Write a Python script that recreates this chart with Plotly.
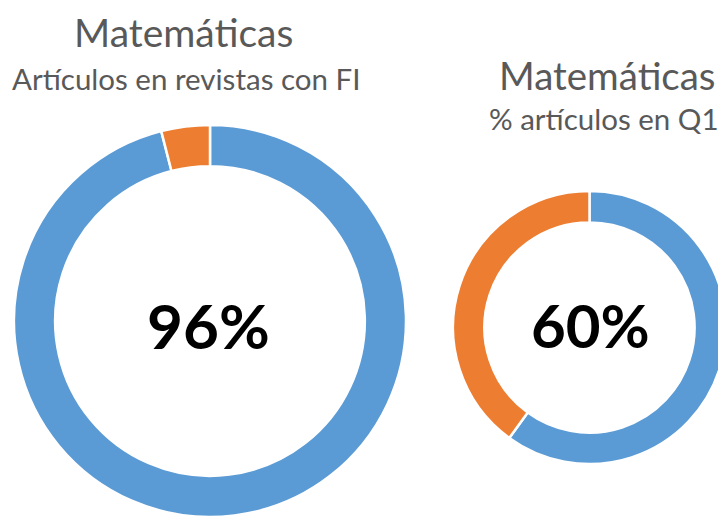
import plotly.graph_objects as go

# The page body has an 8px default margin, so the figure is 8px smaller
# and all reference positions are shifted by -8.
OFF = 8
W, H = 726 - OFF, 517 - OFF

# Data
labels = ["Sí", "No"]
fi_values = [96, 4]
q1_values = [60, 40]
colors = ["#5B9BD5", "#ED7D31"]
title_left = "Matemáticas"
sub_left = "Artículos en revistas con FI"
title_right = "Matemáticas"
sub_right = "% artículos en Q1"
center_left = "96%"
center_right = "60%"

def px(x):
    return min(max((x - OFF) / W, 0), 1)

def py(y):
    return min(max(1 - (y - OFF) / H, 0), 1)

fig = go.Figure()
fig.add_trace(go.Pie(
    labels=labels, values=fi_values, hole=0.79, sort=False, direction="clockwise",
    rotation=0, marker=dict(colors=colors, line=dict(color="white", width=2.5)),
    textinfo="none", hoverinfo="label+percent", showlegend=False,
    domain=dict(x=[px(14), px(406)], y=[py(517), py(125)]),
))
fig.add_trace(go.Pie(
    labels=labels, values=q1_values, hole=0.77, sort=False, direction="clockwise",
    rotation=0, marker=dict(colors=colors, line=dict(color="white", width=2.5)),
    textinfo="none", hoverinfo="label+percent", showlegend=False,
    domain=dict(x=[px(453), px(726)], y=[py(467), py(188)]),
))

FONT = "Lato"
GREY = "#595959"
ann = [
    dict(text=title_left, x=px(183), y=py(32), size=39, color=GREY),
    dict(text=sub_left, x=px(186), y=py(79), size=29.5, color=GREY),
    dict(text=title_right, x=px(607), y=py(75), size=38.5, color=GREY),
    dict(text=sub_right, x=px(604), y=py(118), size=29.5, color=GREY),
    dict(text="<b>" + center_left + "</b>", x=px(208), y=py(325), size=62, color="#000000"),
    dict(text="<b>" + center_right + "</b>", x=px(590), y=py(325), size=60, color="#000000"),
]
for a in ann:
    fig.add_annotation(
        text=a["text"], x=a["x"], y=a["y"], xref="paper", yref="paper",
        xanchor="center", yanchor="middle", showarrow=False,
        font=dict(family=FONT, size=a["size"], color=a["color"]),
    )

fig.update_layout(
    width=W, height=H, margin=dict(l=0, r=0, t=0, b=0),
    paper_bgcolor="white", plot_bgcolor="white",
)
fig.write_html("out.html")
